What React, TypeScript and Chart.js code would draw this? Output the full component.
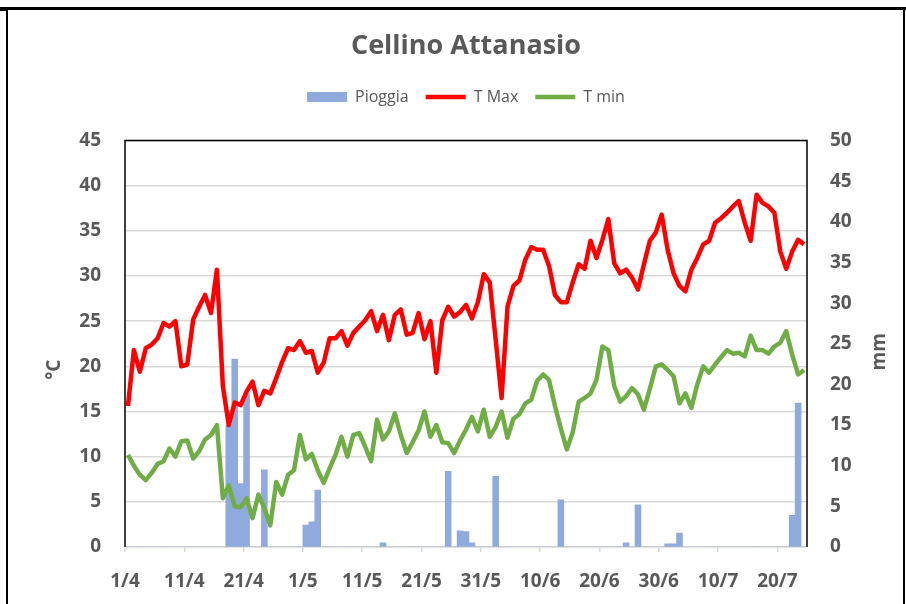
import React, { useEffect, useRef } from 'react';
import { Chart, registerables } from 'chart.js';

Chart.register(...registerables);

const chartTitle = 'Cellino Attanasio';
const leftAxisTitle = '°C';
const rightAxisTitle = 'mm';
const seriesNames = ['Pioggia', 'T Max', 'T min'];

// x tick labels, one every 10 days starting 1 April
const tickLabels = ['1/4', '11/4', '21/4', '1/5', '11/5', '21/5', '31/5', '10/6', '20/6', '30/6', '10/7', '20/7'];
const daysPerTick = 10;
const totalDays = 115; // 1/4 .. 24/7

// daily maximum temperature (°C), 1/4 .. 24/7
const tMax = [
  15.6, 21.8, 19.4, 22.0, 22.4, 23.1, 24.8, 24.4, 25.0, 20.0,
  20.2, 25.2, 26.6, 27.9, 25.9, 30.7, 17.8, 13.5, 16.0, 15.7,
  17.2, 18.3, 15.7, 17.3, 17.0, 18.7, 20.5, 22.0, 21.8, 22.8,
  21.5, 21.7, 19.3, 20.4, 23.1, 23.1, 23.9, 22.3, 23.7, 24.4,
  25.1, 26.1, 23.9, 25.7, 22.9, 25.7, 26.3, 23.5, 23.7, 25.9,
  23.0, 25.0, 19.3, 25.1, 26.6, 25.5, 26.0, 26.8, 25.3, 27.1,
  30.2, 29.3, 23.0, 16.5, 26.6, 28.9, 29.5, 31.8, 33.2, 32.9,
  32.9, 31.1, 27.9, 27.1, 27.1, 29.3, 31.3, 30.8, 33.9, 32.0,
  34.0, 36.3, 31.4, 30.3, 30.7, 29.8, 28.5, 31.3, 33.9, 34.8,
  36.8, 32.9, 30.3, 28.9, 28.3, 30.7, 32.0, 33.5, 33.9, 35.9,
  36.4, 37.0, 37.7, 38.3, 35.9, 33.9, 39.0, 38.1, 37.7, 37.0,
  32.7, 30.8, 32.7, 34.0, 33.5,
];

// daily minimum temperature (°C)
const tMin = [
  10.2, 9.0, 8.0, 7.4, 8.2, 9.2, 9.5, 10.9, 10.0, 11.7,
  11.8, 9.8, 10.6, 11.9, 12.4, 13.5, 5.4, 6.8, 4.5, 4.4,
  5.4, 3.2, 5.8, 4.3, 2.4, 7.2, 5.8, 8.0, 8.5, 12.4,
  9.7, 10.3, 8.5, 7.1, 8.7, 10.2, 12.2, 10.0, 12.4, 12.6,
  11.1, 9.5, 14.1, 11.9, 12.8, 14.8, 12.4, 10.4, 11.6, 12.9,
  15.0, 12.2, 13.5, 11.6, 11.5, 10.4, 11.8, 13.0, 14.4, 12.8,
  15.2, 12.2, 13.3, 15.0, 12.1, 14.2, 14.7, 15.9, 16.3, 18.4,
  19.1, 18.5, 15.6, 13.1, 10.8, 12.7, 16.1, 16.5, 17.0, 18.5,
  22.2, 21.8, 17.8, 16.1, 16.7, 17.6, 16.9, 15.2, 17.5, 20.0,
  20.2, 19.6, 18.9, 15.9, 17.0, 15.4, 18.0, 20.0, 19.3, 20.2,
  21.0, 21.8, 21.4, 21.5, 21.1, 23.4, 21.8, 21.8, 21.4, 22.2,
  22.6, 23.9, 21.3, 19.1, 19.6,
];

// daily rain (mm)
const rain = [
  0, 0, 0, 0, 0, 0, 0, 0, 0, 0,
  0, 0, 0, 0, 0, 0, 0, 15.0, 23.1, 7.8,
  18.9, 0, 0, 9.5, 0, 0, 0, 0, 0, 0,
  2.7, 3.1, 7.0, 0, 0, 0, 0, 0, 0, 0,
  0, 0, 0, 0.5, 0, 0, 0, 0, 0, 0,
  0, 0, 0, 0, 9.3, 0, 2.0, 1.9, 0.5, 0,
  0, 0, 8.7, 0, 0, 0, 0, 0, 0, 0,
  0, 0, 0, 5.8, 0, 0, 0, 0, 0, 0,
  0, 0, 0, 0, 0.5, 0, 5.2, 0, 0, 0,
  0, 0.4, 0.4, 1.7, 0, 0, 0, 0, 0, 0,
  0, 0, 0, 0, 0, 0, 0, 0, 0, 0,
  0, 0, 3.9, 17.7, 0,
];

const TEXT = '#595959';
const FONT = "'Open Sans', sans-serif";

export default function App() {
  const ref = useRef<HTMLCanvasElement | null>(null);

  useEffect(() => {
    const canvas = ref.current;
    if (!canvas) return;
    Chart.defaults.font.family = FONT;
    Chart.defaults.color = TEXT;

    // each day is centred inside its own day slot
    const toPoints = (arr: number[]) => arr.map((v, k) => ({ x: k + 0.5, y: v }));

    const legendSpacer = {
      id: 'legendSpacer',
      beforeInit(chart: any) {
        const orig = chart.legend.fit;
        chart.legend.fit = function fit() {
          orig.call(this);
          this.height += 25.5;
        };
      },
    };

    const frame = {
      id: 'frame',
      beforeDatasetsDraw(chart: any) {
        const { ctx, chartArea } = chart;
        const { left, right, top, bottom } = chartArea;
        ctx.save();
        ctx.strokeStyle = '#000';
        ctx.lineWidth = 1.5;
        ctx.beginPath();
        ctx.moveTo(left, bottom);
        ctx.lineTo(left, top);
        ctx.lineTo(right, top);
        ctx.lineTo(right, bottom);
        ctx.stroke();
        ctx.restore();
      },
    };

    const axisTitles = {
      id: 'axisTitles',
      afterDraw(chart: any) {
        const { ctx, chartArea } = chart;
        const mid = (chartArea.top + chartArea.bottom) / 2;
        const draw = (text: string, x: number, y: number) => {
          ctx.save();
          ctx.translate(x, y);
          ctx.rotate(-Math.PI / 2);
          ctx.font = `bold 19px ${FONT}`;
          ctx.fillStyle = TEXT;
          ctx.textAlign = 'center';
          ctx.textBaseline = 'middle';
          ctx.fillText(text, 0, 0);
          ctx.restore();
        };
        draw(leftAxisTitle, chartArea.left - 70, mid + 26);
        draw(rightAxisTitle, chartArea.right + 73, mid + 8);
      },
    };

    const tickFont = { size: 19, weight: 'bold' as const };

    const chart = new Chart(canvas, {
      type: 'bar',
      data: {
        datasets: [
          {
            type: 'bar',
            label: seriesNames[0],
            data: toPoints(rain),
            yAxisID: 'y1',
            backgroundColor: '#8FAADC',
            borderWidth: 0,
            barPercentage: 1,
            categoryPercentage: 1,
            order: 3,
          } as any,
          {
            type: 'line',
            label: seriesNames[1],
            data: toPoints(tMax),
            yAxisID: 'y',
            borderColor: '#FF0000',
            backgroundColor: '#FF0000',
            borderWidth: 4.5,
            pointRadius: 0,
            tension: 0,
            borderJoinStyle: 'round',
            order: 1,
          } as any,
          {
            type: 'line',
            label: seriesNames[2],
            data: toPoints(tMin),
            yAxisID: 'y',
            borderColor: '#70AD47',
            backgroundColor: '#70AD47',
            borderWidth: 4.5,
            pointRadius: 0,
            tension: 0,
            borderJoinStyle: 'round',
            order: 2,
          } as any,
        ],
      },
      options: {
        responsive: false,
        animation: false,
        events: [],
        layout: { padding: { left: 30, right: 4, top: 14, bottom: 0 } },
        plugins: {
          tooltip: { enabled: false },
          title: {
            display: true,
            text: chartTitle,
            color: TEXT,
            font: { size: 27, weight: 'bold' },
            padding: { top: 16, bottom: 9.6 },
          },
          legend: {
            display: true,
            position: 'top',
            labels: {
              usePointStyle: true,
              pointStyleWidth: 40,
              boxHeight: 10,
              padding: 17,
              color: TEXT,
              font: { size: 16 },
              sort: (a: any, b: any) => a.datasetIndex - b.datasetIndex,
              generateLabels: (c: any) =>
                (Chart.defaults.plugins.legend.labels.generateLabels as any)(c).map((l: any) => ({
                  ...l,
                  pointStyle: l.datasetIndex === 0 ? 'rect' : 'line',
                })),
            },
          },
        },
        scales: {
          x: {
            type: 'linear',
            min: 0,
            max: totalDays,
            offset: false,
            afterBuildTicks: (scale: any) => {
              scale.ticks = tickLabels.map((_, i) => ({ value: i * daysPerTick }));
            },
            afterFit: (scale: any) => {
              scale.height = 57;
            },
            ticks: {
              autoSkip: false,
              maxRotation: 0,
              padding: 18,
              color: TEXT,
              font: tickFont,
              callback: (v: any) => tickLabels[Math.round(Number(v) / daysPerTick)] ?? '',
            },
            grid: {
              drawOnChartArea: false,
              drawTicks: true,
              tickLength: 5,
              color: '#D9D9D9',
              lineWidth: 1.5,
              offset: false,
            },
            border: { display: true, color: '#D9D9D9', width: 1.5 },
          } as any,
          y: {
            type: 'linear',
            position: 'left',
            min: 0,
            max: 45,
            afterFit: (scale: any) => {
              scale.width = 95;
            },
            ticks: { stepSize: 5, padding: 24, color: TEXT, font: tickFont },
            grid: { color: '#D9D9D9', lineWidth: 1.5, drawTicks: false },
            border: { display: false },
          } as any,
          y1: {
            type: 'linear',
            position: 'right',
            min: 0,
            max: 50,
            afterFit: (scale: any) => {
              scale.width = 95;
            },
            ticks: { stepSize: 5, padding: 23, color: TEXT, font: tickFont },
            grid: { drawOnChartArea: false, drawTicks: false },
            border: { display: false },
          } as any,
        },
      },
      plugins: [legendSpacer, frame, axisTitles],
    } as any);

    return () => chart.destroy();
  }, []);

  return (
    <div style={{ position: 'absolute', left: 0, top: 0, width: 906, height: 604, background: '#fff', overflow: 'hidden' }}>
      <canvas ref={ref} width={906} height={604} style={{ position: 'absolute', left: 0, top: 0, width: 906, height: 604 }} />
      <div style={{ position: 'absolute', left: 0, top: 7, width: 906, height: 3, background: '#000' }} />
      <div style={{ position: 'absolute', left: 0, top: 10, width: 7, height: 1, background: '#000' }} />
      <div style={{ position: 'absolute', left: 6, top: 10, width: 2, height: 594, background: '#000' }} />
      <div style={{ position: 'absolute', left: 903, top: 10, width: 2, height: 594, background: '#000' }} />
    </div>
  );
}
